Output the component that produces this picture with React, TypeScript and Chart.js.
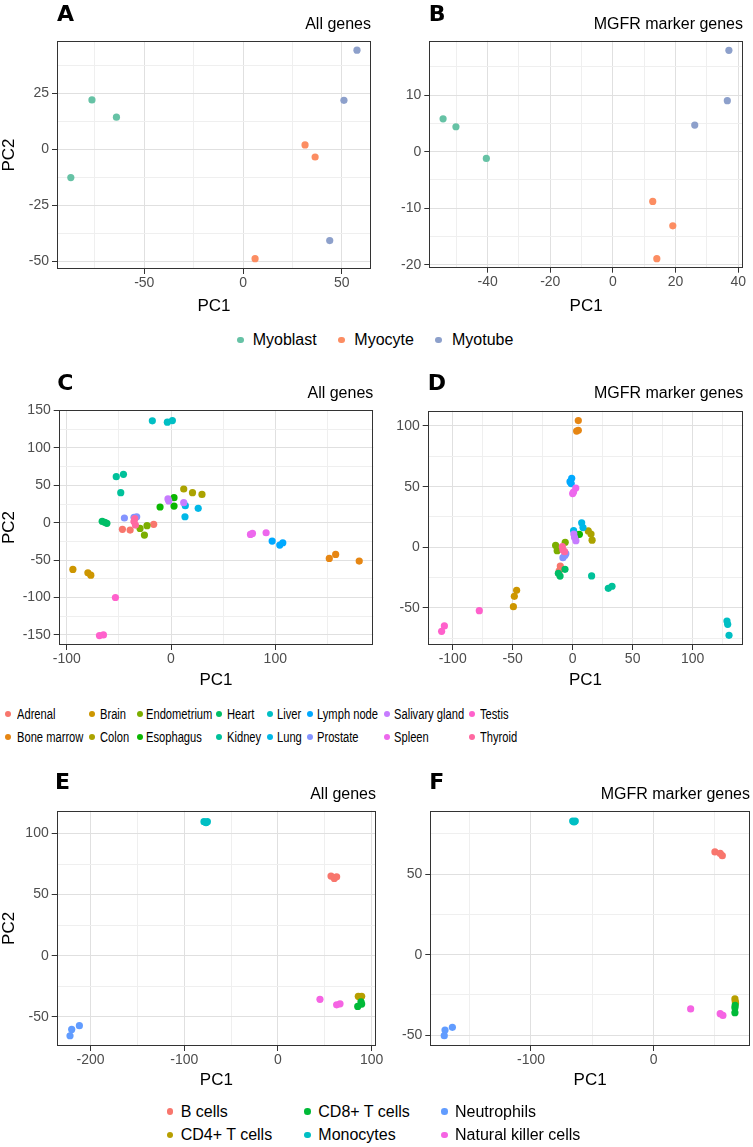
import React, { useEffect, useRef } from 'react';
import { Chart, registerables } from 'chart.js';

Chart.register(...registerables);

const FONT = "'Liberation Sans', Arial, Helvetica, sans-serif";

// ---------------- Panels A / B : muscle differentiation ----------------
const MUSCLE_GROUPS = ['Myoblast', 'Myocyte', 'Myotube'];
const MUSCLE_COLORS = ['#66C2A5', '#FC8D62', '#8DA0CB'];
const MUSCLE_SAMPLES = ['Myoblast', 'Myoblast', 'Myoblast', 'Myocyte', 'Myocyte', 'Myocyte', 'Myotube', 'Myotube', 'Myotube'];

const A_pc1 = [-76.5, -64.1, -87.2, 31.4, 36.5, 6.1, 57.7, 51.1, 43.9];
const A_pc2 = [22.2, 14.5, -12.5, 2.1, -3.3, -48.7, 44.4, 22.0, -40.6];
const B_pc1 = [-54.2, -50.1, -40.4, 12.7, 19.1, 14.0, 37.0, 36.5, 26.1];
const B_pc2 = [5.8, 4.4, -1.2, -8.8, -13.1, -18.9, 17.9, 9.0, 4.7];

// ---------------- Panels C / D : tissues ----------------
const TISSUES = ['Adrenal', 'Bone marrow', 'Brain', 'Colon', 'Endometrium', 'Esophagus', 'Heart', 'Kidney', 'Liver', 'Lung', 'Lymph node', 'Prostate', 'Salivary gland', 'Spleen', 'Testis', 'Thyroid'];
const TISSUE_COLORS = ['#F8766D', '#E68613', '#CD9600', '#ABA300', '#7CAE00', '#0CB702', '#00BE67', '#00C19A', '#00BFC4', '#00B8E7', '#00A9FF', '#8494FF', '#C77CFF', '#ED68ED', '#FF61CC', '#FF68A1'];
const TISSUE_SAMPLES = [
  'Adrenal', 'Adrenal', 'Adrenal', 'Bone marrow', 'Bone marrow', 'Bone marrow', 'Brain', 'Brain', 'Brain',
  'Colon', 'Colon', 'Colon', 'Endometrium', 'Endometrium', 'Endometrium', 'Esophagus', 'Esophagus', 'Esophagus',
  'Heart', 'Heart', 'Heart', 'Kidney', 'Kidney', 'Kidney', 'Liver', 'Liver', 'Liver', 'Lung', 'Lung', 'Lung',
  'Lymph node', 'Lymph node', 'Lymph node', 'Prostate', 'Prostate', 'Prostate',
  'Salivary gland', 'Salivary gland', 'Salivary gland', 'Spleen', 'Spleen', 'Spleen',
  'Testis', 'Testis', 'Testis', 'Thyroid', 'Thyroid', 'Thyroid',
];
const C_pc1 = [
  -46.6, -39.2, -16.6, 151.8, 157.9, 180.5, -94.1, -79.7, -76.9,
  12.2, 20.6, 29.7, -29.7, -23.0, -25.5, -10.5, 2.9, 2.9,
  -66.0, -61.5, -63.5, -52.5, -45.6, -48.2, -17.9, -3.5, 1.3, 13.7, 26.1, 13.4,
  97.0, 104.3, 107.2, -44.7, -35.5, -32.9,
  -2.9, -2.1, 12.2, 76.2, 78.1, 91.2,
  -53.3, -68.6, -64.8, -34.8, -34.1, -35.5,
];
const C_pc2 = [
  -8.9, -9.8, -2.2, -47.8, -42.4, -51.3, -62.5, -67.0, -70.1,
  45.1, 40.2, 37.8, -7.6, -4.0, -16.5, 21.0, 33.5, 22.3,
  1.8, -0.8, 0.5, 61.5, 64.7, 40.2, 136.2, 134.4, 136.6, 22.8, 19.2, 8.0,
  -24.6, -29.9, -26.8, 6.3, 7.2, 8.0,
  31.8, 29.0, 26.8, -15.6, -14.3, -13.4,
  -100.0, -150.9, -150.0, 5.4, -3.1, 1.5,
];
const D_pc1 = [
  -10.3, -11.2, -11.7, 4.7, 3.3, 4.7, -46.7, -48.6, -49.4,
  13.0, 15.3, 16.2, -14.2, -12.9, -6.2, 3.5, 5.6, 2.0,
  -6.4, -10.5, -11.9, 15.8, 29.7, 32.8, 128.6, 129.2, 130.3, 7.5, 8.6, 0.8,
  -0.8, -2.2, -1.2, -8.1, -5.7, -6.5,
  1.0, 1.6, 2.7, 2.6, 0.7, 0.0,
  -77.8, -106.9, -109.2, -8.6, -8.1, -6.7,
];
const D_pc2 = [
  -15.4, -19.3, -21.4, 104.5, 95.8, 96.5, -35.4, -40.4, -48.9,
  13.5, 11.0, 5.9, 1.6, -2.8, 4.2, 10.1, 10.7, 8.5,
  -18.1, -23.7, -21.4, -23.6, -33.8, -32.1, -60.7, -63.5, -72.5, 20.2, 16.3, 13.8,
  56.9, 54.1, 52.5, -8.5, -5.2, -6.8,
  11.0, 8.0, 5.5, 48.8, 45.5, 44.3,
  -52.2, -64.8, -69.2, 0.5, -2.2, -3.6,
];

// ---------------- Panels E / F : immune cells ----------------
const CELLS = ['B cells', 'CD4+ T cells', 'CD8+ T cells', 'Monocytes', 'Neutrophils', 'Natural killer cells'];
const CELL_COLORS = ['#F8766D', '#B79F00', '#00BA38', '#00BFC4', '#619CFF', '#F564E3'];
const CELL_SAMPLES = [
  'B cells', 'B cells', 'B cells', 'CD4+ T cells', 'CD4+ T cells', 'CD4+ T cells',
  'CD8+ T cells', 'CD8+ T cells', 'CD8+ T cells', 'Monocytes', 'Monocytes', 'Monocytes',
  'Neutrophils', 'Neutrophils', 'Neutrophils', 'Natural killer cells', 'Natural killer cells', 'Natural killer cells',
];
const E_pc1 = [56.6, 60.1, 62.6, 85.7, 89.3, 87.5, 85.1, 88.6, 89.3, -79.0, -75.4, -76.8, -212.0, -220.2, -222.0, 44.8, 62.6, 66.2];
const E_pc2 = [65.2, 63.3, 64.6, -33.2, -33.2, -34.0, -41.5, -37.7, -39.6, 109.7, 109.7, 108.9, -57.3, -60.3, -65.5, -35.7, -40.2, -39.4];
const F_pc1 = [50.0, 54.3, 56.0, 66.3, 66.6, 66.8, 66.5, 66.3, 66.3, -66.0, -63.9, -64.9, -164.1, -170.1, -170.7, 30.2, 54.3, 56.5];
const F_pc2 = [63.8, 62.9, 61.5, -27.5, -29.2, -30.0, -31.5, -33.0, -36.0, 83.0, 83.0, 82.4, -45.1, -46.8, -50.3, -33.7, -36.6, -37.7];

// ---------------- Axis breaks ----------------
const A_xMajor = [-50, 0, 50];
const A_xMinor = [-75, -25, 25];
const A_yMajor = [-50, -25, 0, 25];
const A_yMinor = [-37.5, -12.5, 12.5, 37.5];
const B_xMajor = [-40, -20, 0, 20, 40];
const B_xMinor = [-50, -30, -10, 10, 30];
const B_yMajor = [-20, -10, 0, 10];
const B_yMinor = [-15, -5, 5, 15];
const C_xMajor = [-100, 0, 100];
const C_xMinor = [-50, 50, 150];
const C_yMajor = [-150, -100, -50, 0, 50, 100, 150];
const C_yMinor = [-125, -75, -25, 25, 75, 125];
const D_xMajor = [-100, -50, 0, 50, 100];
const D_xMinor = [-75, -25, 25, 75, 125];
const D_yMajor = [-50, 0, 50, 100];
const D_yMinor = [-75, -25, 25, 75];
const E_xMajor = [-200, -100, 0, 100];
const E_xMinor = [-150, -50, 50];
const E_yMajor = [-50, 0, 50, 100];
const E_yMinor = [-25, 25, 75];
const F_xMajor = [-100, 0];
const F_xMinor = [-150, -50, 50];
const F_yMajor = [-50, 0, 50];
const F_yMinor = [-25, 25, 75];

// ---------------- Panel specs (layout) ----------------
type Spec = {
  letter: string; subtitle: string;
  groups: string[]; colors: string[]; samples: string[]; pc1: number[]; pc2: number[];
  xRange: number[]; yRange: number[];
  xMajor: number[]; xMinor: number[]; yMajor: number[]; yMinor: number[];
  canvas: { left: number; top: number; width: number; height: number };
  plot: { l: number; t: number; r: number; b: number };
  letterX: number; letterY: number; subY: number; yTitle: boolean;
};

const SPECS: Spec[] = [
  {
    letter: 'A', subtitle: 'All genes', groups: MUSCLE_GROUPS, colors: MUSCLE_COLORS, samples: MUSCLE_SAMPLES, pc1: A_pc1, pc2: A_pc2,
    xRange: [-94.2, 64.8], yRange: [-53.3, 48.5], xMajor: A_xMajor, xMinor: A_xMinor, yMajor: A_yMajor, yMinor: A_yMinor,
    canvas: { left: 0, top: 0, width: 376, height: 316 }, plot: { l: 57, t: 41, r: 371, b: 269 },
    letterX: 57, letterY: 21, subY: 28.7, yTitle: true,
  },
  {
    letter: 'B', subtitle: 'MGFR marker genes', groups: MUSCLE_GROUPS, colors: MUSCLE_COLORS, samples: MUSCLE_SAMPLES, pc1: B_pc1, pc2: B_pc2,
    xRange: [-58.6, 41.5], yRange: [-20.5, 19.6], xMajor: B_xMajor, xMinor: B_xMinor, yMajor: B_yMajor, yMinor: B_yMinor,
    canvas: { left: 376, top: 0, width: 377, height: 316 }, plot: { l: 429.3, t: 40.7, r: 743, b: 267.7 },
    letterX: 428.7, letterY: 21, subY: 28.7, yTitle: false,
  },
  {
    letter: 'C', subtitle: 'All genes', groups: TISSUES, colors: TISSUE_COLORS, samples: TISSUE_SAMPLES, pc1: C_pc1, pc2: C_pc2,
    xRange: [-107.7, 194], yRange: [-163.5, 150.7], xMajor: C_xMajor, xMinor: C_xMinor, yMajor: C_yMajor, yMinor: C_yMinor,
    canvas: { left: 0, top: 360, width: 376, height: 330 }, plot: { l: 58.7, t: 410, r: 373.3, b: 645 },
    letterX: 57.3, letterY: 390, subY: 397.5, yTitle: true,
  },
  {
    letter: 'D', subtitle: 'MGFR marker genes', groups: TISSUES, colors: TISSUE_COLORS, samples: TISSUE_SAMPLES, pc1: D_pc1, pc2: D_pc2,
    xRange: [-120.8, 142.2], yRange: [-80.5, 112.6], xMajor: D_xMajor, xMinor: D_xMinor, yMajor: D_yMajor, yMinor: D_yMinor,
    canvas: { left: 376, top: 360, width: 377, height: 330 }, plot: { l: 427.7, t: 410.7, r: 743.3, b: 645 },
    letterX: 427.7, letterY: 390, subY: 397.5, yTitle: false,
  },
  {
    letter: 'E', subtitle: 'All genes', groups: CELLS, colors: CELL_COLORS, samples: CELL_SAMPLES, pc1: E_pc1, pc2: E_pc2,
    xRange: [-236.2, 104.6], yRange: [-73.9, 118.7], xMajor: E_xMajor, xMinor: E_xMinor, yMajor: E_yMajor, yMinor: E_yMinor,
    canvas: { left: 0, top: 770, width: 392, height: 320 }, plot: { l: 56.7, t: 810.7, r: 376, b: 1046 },
    letterX: 55, letterY: 789.3, subY: 799.3, yTitle: true,
  },
  {
    letter: 'F', subtitle: 'MGFR marker genes', groups: CELLS, colors: CELL_COLORS, samples: CELL_SAMPLES, pc1: F_pc1, pc2: F_pc2,
    xRange: [-182.1, 78.6], yRange: [-56.7, 89.4], xMajor: F_xMajor, xMinor: F_xMinor, yMajor: F_yMajor, yMinor: F_yMinor,
    canvas: { left: 376, top: 770, width: 377, height: 320 }, plot: { l: 430.3, t: 810.7, r: 750, b: 1046 },
    letterX: 429.3, letterY: 789.3, subY: 799.3, yTitle: false,
  },
];

const decorPlugin = {
  id: 'panelDecor',
  afterDraw(chart: any, _args: any, opts: any) {
    const { ctx, chartArea } = chart;
    ctx.save();
    ctx.strokeStyle = '#333333';
    ctx.lineWidth = 1;
    const x0 = Math.round(chartArea.left) + 0.5;
    const x1 = Math.round(chartArea.right) - 0.5;
    const y0 = Math.round(chartArea.top) + 0.5;
    const y1 = Math.round(chartArea.bottom) - 0.5;
    ctx.strokeRect(x0, y0, x1 - x0, y1 - y0);
    ctx.fillStyle = '#000';
    ctx.textBaseline = 'alphabetic';
    ctx.textAlign = 'left';
    ctx.font = "bold 22px 'DejaVu Sans', sans-serif";
    ctx.fillText(opts.letter, opts.letterX, opts.letterY);
    ctx.textAlign = 'right';
    ctx.font = `16px ${FONT}`;
    ctx.fillText(opts.subtitle, chartArea.right, opts.subY);
    ctx.restore();
  },
};

function axis(major: number[], minor: number[], range: number[], size: number, horizontal: boolean, title: string | null, pad: number) {
  const all = [...minor, ...major].sort((a, b) => a - b);
  const isMajor = (v: number) => major.includes(v);
  return {
    type: 'linear',
    position: horizontal ? 'bottom' : 'left',
    min: range[0],
    max: range[1],
    afterBuildTicks: (scale: any) => {
      scale.ticks = all.map((v) => ({ value: v }));
    },
    afterFit: (scale: any) => {
      if (horizontal) scale.height = size;
      else scale.width = size;
    },
    border: { display: false },
    grid: {
      drawOnChartArea: true,
      drawTicks: true,
      tickLength: 5,
      tickWidth: 1,
      color: (c: any) => (c.tick && isMajor(c.tick.value) ? '#E0E0E0' : '#EFEFEF'),
      lineWidth: 1,
      tickColor: (c: any) => (c.tick && isMajor(c.tick.value) ? '#333333' : 'rgba(0,0,0,0)'),
    },
    ticks: {
      autoSkip: false,
      maxRotation: 0,
      minRotation: 0,
      padding: pad,
      color: '#4D4D4D',
      font: { family: FONT, size: 14 },
      callback: (v: any) => (isMajor(Number(v)) ? String(v) : ''),
    },
    title: {
      display: !!title,
      text: title || '',
      color: '#000',
      font: { family: FONT, size: 17, lineHeight: 1.1 },
      padding: 0,
    },
  };
}

function Panel({ spec }: { spec: Spec }) {
  const ref = useRef<HTMLCanvasElement | null>(null);
  useEffect(() => {
    const s = spec;
    const datasets = s.groups.map((g, gi) => {
      const pts: { x: number; y: number }[] = [];
      s.samples.forEach((sg, i) => {
        if (sg === g) pts.push({ x: s.pc1[i], y: s.pc2[i] });
      });
      return {
        label: g,
        data: pts,
        backgroundColor: s.colors[gi],
        borderColor: s.colors[gi],
        borderWidth: 0,
        pointRadius: 3.6,
        pointHoverRadius: 3.6,
        order: -gi,
      };
    });
    const cv = s.canvas;
    const yWidth = s.plot.l - cv.left;
    const xHeight = cv.top + cv.height - s.plot.b;
    const chart = new Chart(ref.current as HTMLCanvasElement, {
      type: 'scatter',
      data: { datasets } as any,
      plugins: [decorPlugin],
      options: {
        responsive: false,
        maintainAspectRatio: false,
        devicePixelRatio: 1,
        animation: false,
        events: [],
        layout: {
          autoPadding: false,
          padding: { left: 0, top: s.plot.t - cv.top, right: cv.left + cv.width - s.plot.r, bottom: 0 },
        },
        plugins: {
          legend: { display: false },
          tooltip: { enabled: false },
          panelDecor: {
            letter: s.letter,
            subtitle: s.subtitle,
            letterX: s.letterX - cv.left,
            letterY: s.letterY - cv.top,
            subY: s.subY - cv.top,
          },
        },
        scales: {
          x: axis(s.xMajor, s.xMinor, s.xRange, xHeight, true, 'PC1', 1),
          y: axis(s.yMajor, s.yMinor, s.yRange, yWidth, false, s.yTitle ? 'PC2' : null, 3),
        },
      } as any,
    });
    return () => chart.destroy();
  }, [spec]);
  const cv = spec.canvas;
  return (
    <canvas
      ref={ref}
      width={cv.width}
      height={cv.height}
      style={{ position: 'absolute', left: cv.left, top: cv.top, width: cv.width, height: cv.height }}
    />
  );
}

type LegendItem = { label: string; color: string; dotX: number; textX: number; cy: number };

function Legend({ items, fontSize, scaleX, r }: { items: LegendItem[]; fontSize: number; scaleX: number; r: number }) {
  return (
    <>
      {items.map((it) => (
        <React.Fragment key={it.label}>
          <div
            style={{
              position: 'absolute', left: it.dotX - r, top: it.cy - r, width: 2 * r, height: 2 * r,
              borderRadius: '50%', background: it.color,
            }}
          />
          <div
            style={{
              position: 'absolute', left: it.textX, top: it.cy - 10, height: 20, lineHeight: '20px',
              fontSize, fontFamily: FONT, color: '#000', whiteSpace: 'nowrap',
              transform: `scaleX(${scaleX})`, transformOrigin: 'left center',
            }}
          >
            {it.label}
          </div>
        </React.Fragment>
      ))}
    </>
  );
}

const AB_LEGEND_POS = [
  { dotX: 240.3, textX: 252.7 },
  { dotX: 341.7, textX: 354.3 },
  { dotX: 438.7, textX: 452 },
];
const CD_LEGEND_COLS = [
  { dotX: 8.3, textX: 17.3 },
  { dotX: 91.7, textX: 100 },
  { dotX: 140, textX: 145.7 },
  { dotX: 219, textX: 226.7 },
  { dotX: 270, textX: 276.7 },
  { dotX: 310, textX: 316.7 },
  { dotX: 386.7, textX: 394 },
  { dotX: 471.7, textX: 480 },
];
const CD_LEGEND_ROWS = [714, 737.4];
const EF_LEGEND_COLS = [
  { dotX: 170, textX: 180.7 },
  { dotX: 307.3, textX: 318.3 },
  { dotX: 444.3, textX: 455 },
];
const EF_LEGEND_ROWS = [1111.7, 1135];

export default function App() {
  const abItems: LegendItem[] = MUSCLE_GROUPS.map((g, i) => ({
    label: g, color: MUSCLE_COLORS[i], dotX: AB_LEGEND_POS[i].dotX, textX: AB_LEGEND_POS[i].textX, cy: 340,
  }));
  const cdItems: LegendItem[] = TISSUES.map((t, i) => {
    const col = Math.floor(i / 2);
    const row = i % 2;
    return { label: t, color: TISSUE_COLORS[i], dotX: CD_LEGEND_COLS[col].dotX, textX: CD_LEGEND_COLS[col].textX, cy: CD_LEGEND_ROWS[row] };
  });
  const efItems: LegendItem[] = CELLS.map((c, i) => {
    const col = Math.floor(i / 2);
    const row = i % 2;
    return { label: c, color: CELL_COLORS[i], dotX: EF_LEGEND_COLS[col].dotX, textX: EF_LEGEND_COLS[col].textX, cy: EF_LEGEND_ROWS[row] };
  });
  return (
    <div style={{ position: 'absolute', left: 0, top: 0, width: 753, height: 1147, background: '#fff', overflow: 'hidden' }}>
      {SPECS.map((s) => (
        <Panel key={s.letter} spec={s} />
      ))}
      <Legend items={abItems} fontSize={16} scaleX={1} r={3.3} />
      <Legend items={cdItems} fontSize={15.5} scaleX={0.72} r={3} />
      <Legend items={efItems} fontSize={16} scaleX={1} r={3.3} />
    </div>
  );
}
